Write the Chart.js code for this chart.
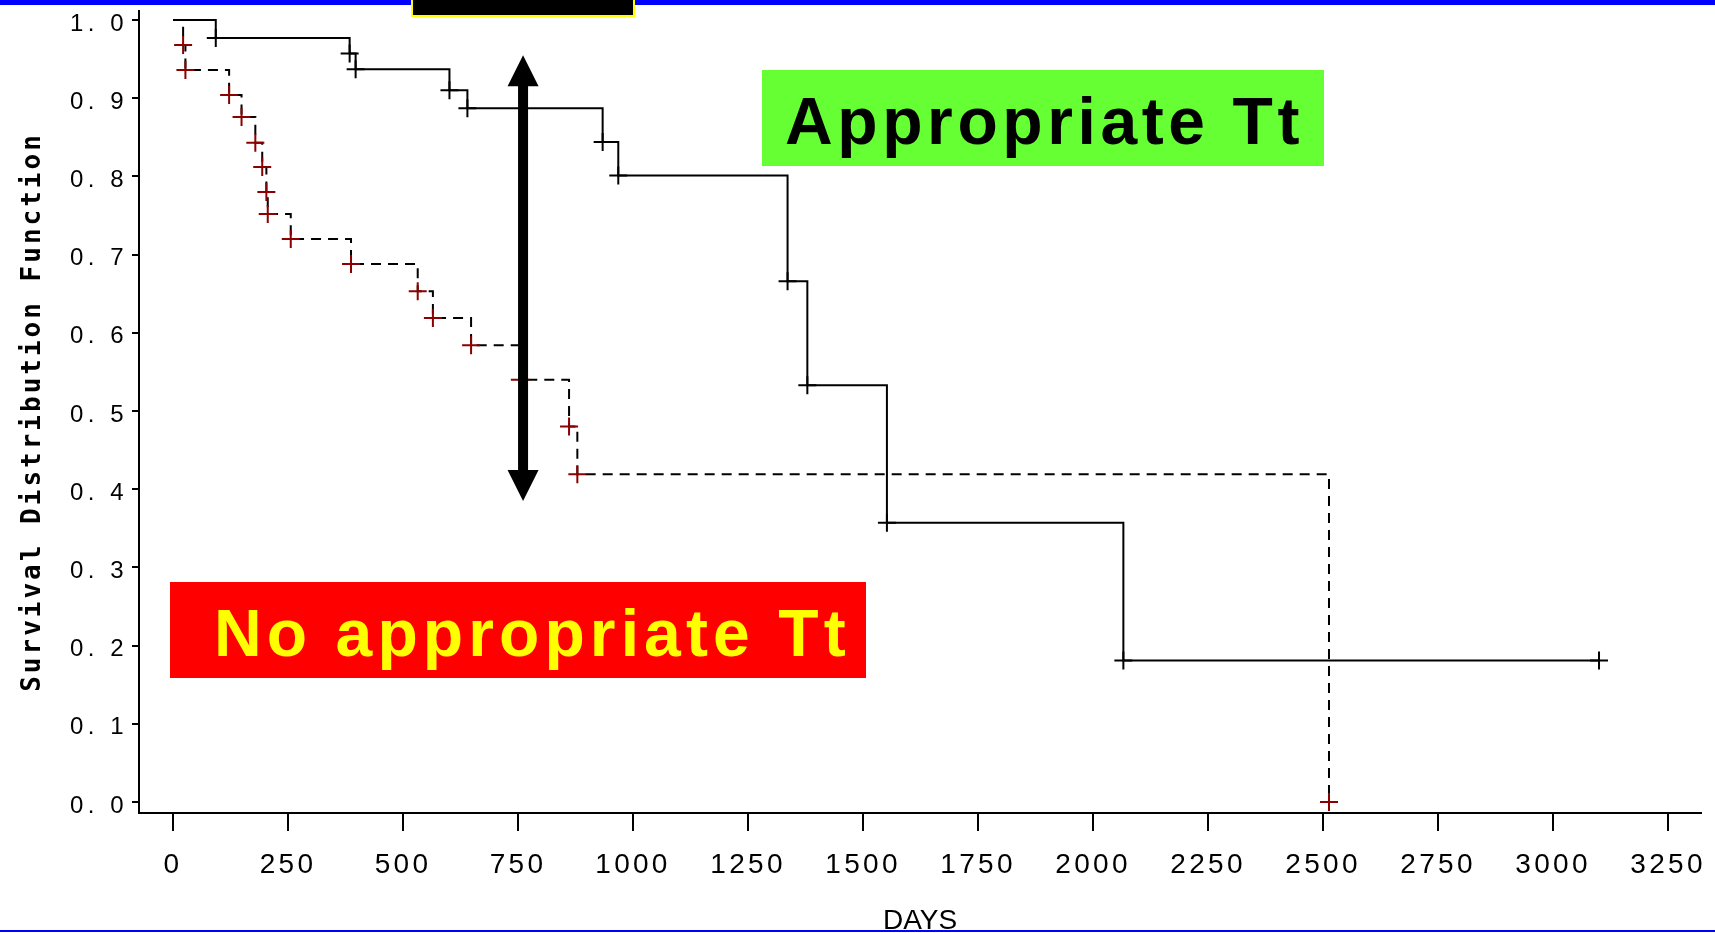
<!DOCTYPE html>
<html>
<head>
<meta charset="utf-8">
<script src="https://cdn.jsdelivr.net/npm/chart.js@4/dist/chart.umd.min.js"></script>
<style>
  html, body { margin: 0; padding: 0; background: #fff; }
  #wrap { position: relative; width: 1715px; height: 933px; overflow: hidden; background: #fff; }
  #km { position: absolute; left: 0; top: 0; }
  .bar-top { position: absolute; left: 0; top: 0; width: 1715px; height: 5px; background: #0000ff; }
  .bar-bottom { position: absolute; left: 0; top: 930px; width: 1715px; height: 2px; background: #0000ff; }
  .tab { position: absolute; left: 411px; top: 0; width: 220px; height: 15px; background: #000; border: 2px solid #ffff00; border-top: none; }
  .tag {
    position: absolute; display: flex; align-items: center; box-sizing: border-box;
    font-family: "Liberation Sans", Arial, sans-serif; font-weight: bold; font-size: 66px;
    white-space: nowrap; padding-top: 5px;
  }
  .good { left: 762px; top: 70px; width: 562px; height: 96px; background: #66ff33; color: #000; letter-spacing: 4.6px; padding-left: 23px; }
  .bad { left: 170px; top: 582px; width: 696px; height: 96px; background: #ff0000; color: #ffff00; letter-spacing: 5.1px; padding-left: 44px; }
</style>
</head>
<body>
<div id="wrap">
  <canvas id="km" width="1715" height="933"></canvas>
  <div class="bar-top"></div>
  <div class="tab"></div>
  <div class="tag good">Appropriate Tt</div>
  <div class="tag bad">No appropriate Tt</div>
  <div class="bar-bottom"></div>
</div>
<script>
// Kaplan-Meier steps: day of each event and survival after it
const solidDays = [0, 93, 384, 397, 601, 640, 934, 968, 1336, 1379, 1552, 2066, 3100];
const solidSurv = [1.0, 0.977, 0.957, 0.937, 0.910, 0.887, 0.844, 0.801, 0.666, 0.533, 0.357, 0.181, 0.181];

const dashedDays = [0, 22, 27, 122, 149, 179, 194, 203, 206, 256, 387, 532, 565, 648, 754, 861, 879, 2513];
const dashedSurv = [1.0, 0.968, 0.936, 0.904, 0.876, 0.843, 0.812, 0.780, 0.752, 0.720, 0.688, 0.653, 0.619, 0.584, 0.540, 0.480, 0.419, 0.0];

const xTickValues = [0, 250, 500, 750, 1000, 1250, 1500, 1750, 2000, 2250, 2500, 2750, 3000, 3250];
const yTickValues = [0, 0.1, 0.2, 0.3, 0.4, 0.5, 0.6, 0.7, 0.8, 0.9, 1.0];

// double arrow marking the gap between the two curves
const arrowDay = 761;
const arrowLow = 0.385;
const arrowHigh = 0.955;

const toPoints = (days, surv) => days.map((d, i) => ({ x: d, y: surv[i] }));
const skipFirst = (ctx) => (ctx.dataIndex === 0 ? 0 : 9);

// canvas text has no letter-spacing option in Chart.js, so wrap the scale drawing
const spacing = { x: ["3.3px", "0px"], y: ["4.5px", "3px"] };
const spacingPlugin = {
  id: "spacing",
  beforeDraw(chart) {
    const ctx = chart.ctx;
    Object.keys(spacing).forEach((id) => {
      const scale = chart.scales[id];
      if (!scale || scale._spaced) return;
      const drawLabels = scale.drawLabels.bind(scale);
      const drawTitle = scale.drawTitle.bind(scale);
      scale.drawLabels = (area) => {
        ctx.save();
        ctx.letterSpacing = spacing[id][0];
        drawLabels(area);
        ctx.restore();
      };
      scale.drawTitle = (area) => {
        ctx.save();
        ctx.letterSpacing = spacing[id][1];
        drawTitle(area);
        ctx.restore();
      };
      scale._spaced = true;
    });
  },
};

const arrowPlugin = {
  id: "arrow",
  afterDatasetsDraw(chart) {
    const { ctx, scales } = chart;
    const cx = scales.x.getPixelForValue(arrowDay);
    const top = scales.y.getPixelForValue(arrowHigh);
    const bottom = scales.y.getPixelForValue(arrowLow);
    const head = 31;
    const half = 15.5;
    const shaft = 5;
    ctx.save();
    ctx.fillStyle = "#000";
    ctx.fillRect(cx - shaft, top + head - 1, shaft * 2, bottom - top - head * 2 + 2);
    ctx.beginPath();
    ctx.moveTo(cx, top);
    ctx.lineTo(cx + half, top + head);
    ctx.lineTo(cx - half, top + head);
    ctx.closePath();
    ctx.fill();
    ctx.beginPath();
    ctx.moveTo(cx, bottom);
    ctx.lineTo(cx + half, bottom - head);
    ctx.lineTo(cx - half, bottom - head);
    ctx.closePath();
    ctx.fill();
    ctx.restore();
  },
};

const sans = "'Liberation Sans', Arial, sans-serif";

new Chart(document.getElementById("km"), {
  type: "line",
  data: {
    datasets: [
      {
        label: "Appropriate Tt",
        data: toPoints(solidDays, solidSurv),
        stepped: true,
        borderColor: "#000",
        borderWidth: 2,
        fill: false,
        pointStyle: "cross",
        pointRadius: skipFirst,
        pointHoverRadius: 0,
        pointBorderColor: "#000",
        pointBorderWidth: 2,
      },
      {
        label: "No appropriate Tt",
        data: toPoints(dashedDays, dashedSurv),
        stepped: true,
        borderColor: "#000",
        borderWidth: 2,
        borderDash: [10, 7],
        fill: false,
        pointStyle: "cross",
        pointRadius: skipFirst,
        pointHoverRadius: 0,
        pointBorderColor: "#8b0000",
        pointBorderWidth: 2,
      },
    ],
  },
  options: {
    responsive: false,
    animation: false,
    devicePixelRatio: 1,
    events: [],
    layout: { padding: { top: 11, right: 14, left: 0, bottom: 0 } },
    plugins: { legend: { display: false }, tooltip: { enabled: false } },
    scales: {
      x: {
        type: "linear",
        min: -73.9,
        max: 3321.7,
        afterBuildTicks: (scale) => {
          scale.ticks = xTickValues.map((v) => ({ value: v }));
        },
        afterFit: (scale) => {
          scale.height = 120;
          scale.paddingLeft = 0;
          scale.paddingRight = 0;
        },
        grid: { drawOnChartArea: false, tickLength: 18, color: "#000", lineWidth: 2 },
        border: { color: "#000", width: 2 },
        ticks: {
          color: "#000",
          font: { family: sans, size: 28 },
          padding: 17,
          maxRotation: 0,
          autoSkip: false,
          callback: (v) => String(v),
        },
        title: {
          display: true,
          text: "DAYS",
          color: "#000",
          font: { family: sans, size: 28, lineHeight: 0.8 },
          padding: { top: 0, bottom: 1 },
        },
      },
      y: {
        min: -0.0141,
        max: 1.0115,
        afterBuildTicks: (scale) => {
          scale.ticks = yTickValues.map((v) => ({ value: v }));
        },
        afterFit: (scale) => {
          scale.width = 139;
          scale.paddingTop = 0;
          scale.paddingBottom = 0;
        },
        grid: { drawOnChartArea: false, tickLength: 7, color: "#000", lineWidth: 2 },
        border: { color: "#000", width: 2 },
        ticks: {
          color: "#000",
          font: { family: sans, size: 24 },
          padding: 4,
          labelOffset: 4,
          callback: (v) => v.toFixed(1).replace(".", ". "),
        },
        title: {
          display: true,
          text: "Survival Distribution Function",
          color: "#000",
          font: { family: "'DejaVu Sans Mono', monospace", size: 26, weight: "bold", lineHeight: 1.2 },
          padding: { top: 18, bottom: 0 },
        },
      },
    },
  },
  plugins: [spacingPlugin, arrowPlugin],
});
</script>
</body>
</html>
